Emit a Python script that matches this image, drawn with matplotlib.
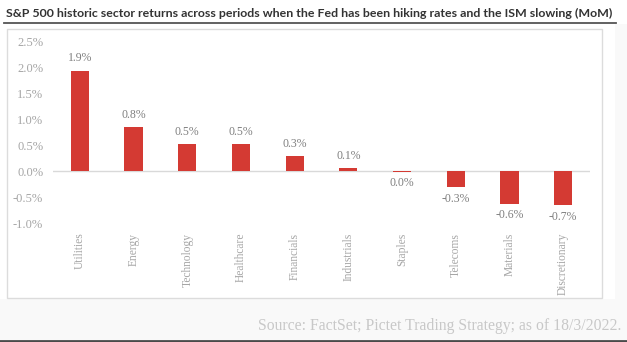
import matplotlib
matplotlib.use("Agg")
import matplotlib.pyplot as plt
from matplotlib.patches import Rectangle
from matplotlib.lines import Line2D

sectors = ["Utilities", "Energy", "Technology", "Healthcare", "Financials",
           "Industrials", "Staples", "Telecoms", "Materials", "Discretionary"]
returns = [1.93, 0.84, 0.52, 0.52, 0.29, 0.06, -0.01, -0.31, -0.63, -0.66]
yticks = [-1.0, -0.5, 0.0, 0.5, 1.0, 1.5, 2.0, 2.5]

W, H = 627, 342
BAR = "#d43a33"
SERIF = "Liberation Serif"


def fx(px):
    return px / W


def fy(py):
    return 1 - py / H


fig = plt.figure(figsize=(W / 100, H / 100), dpi=100, facecolor="white")

# grey strip under the chart frame and dark rule at the very bottom
fig.patches.append(Rectangle((0, 0), 1, fy(299), transform=fig.transFigure,
                             facecolor="#f9f9f9", edgecolor="none", zorder=0))
fig.patches.append(Rectangle((fx(615), fy(299)), 1 - fx(615), fy(24) - fy(299),
                             transform=fig.transFigure, facecolor="#f9f9f9",
                             edgecolor="none", zorder=0))
fig.lines.append(Line2D([0, 1], [fy(341), fy(341)], transform=fig.transFigure,
                        color="#4a4a4a", lw=2))

# chart frame
fig.patches.append(Rectangle((fx(7), fy(298)), fx(602) - fx(7), fy(29) - fy(298),
                             transform=fig.transFigure, facecolor="white",
                             edgecolor="#dcdcdc", lw=1, zorder=1))

# title, shrunk to sit over the underline
title = fig.text(fx(6), fy(13), "S&P 500 historic sector returns across periods when the Fed "
                 "has been hiking rates and the ISM slowing (MoM)",
                 fontsize=10.5, fontfamily="Lato", fontweight="bold", color="#333333",
                 ha="left", va="center")
renderer = fig.canvas.get_renderer()
tw = title.get_window_extent(renderer).width
title.set_fontsize(10.5 * 608 / tw)
fig.lines.append(Line2D([fx(4), fx(616)], [fy(22.5), fy(22.5)],
                        transform=fig.transFigure, color="#555555", lw=1.3))

ax = fig.add_axes([fx(53), fy(223), fx(590) - fx(53), fy(41) - fy(223)])
ax.set_zorder(2)
ax.patch.set_alpha(0)
x = range(len(sectors))
ax.bar(x, returns, width=0.34, color=BAR, edgecolor="none", zorder=3)
ax.axhline(0, color="#d9d9d9", lw=1, zorder=2)

for i, v in enumerate(returns):
    txt = f"{round(v, 1) + 0:.1f}%"
    if v >= 0:
        ax.annotate(txt, (i, v), xytext=(0, 4.5), textcoords="offset points",
                    ha="center", va="bottom", fontsize=8.5, fontfamily=SERIF,
                    color="#7f7f7f")
    else:
        ax.annotate(txt, (i, v), xytext=(0, -4), textcoords="offset points",
                    ha="center", va="top", fontsize=8.5, fontfamily=SERIF,
                    color="#7f7f7f")

ax.set_xlim(-0.5, len(sectors) - 0.5)
ax.set_ylim(-1.0, 2.5)
ax.set_yticks(yticks)
ax.set_yticklabels([f"{t:.1f}%" for t in yticks], fontsize=9, fontfamily=SERIF,
                   color="#a6a6a6")
ax.set_xticks(list(x))
ax.set_xticklabels(sectors, rotation=90, fontsize=8.3, fontfamily=SERIF,
                   color="#a6a6a6", va="top")
ax.tick_params(axis="both", length=0)
ax.tick_params(axis="y", pad=7)
ax.tick_params(axis="x", pad=7)
for s in ax.spines.values():
    s.set_visible(False)

fig.text(fx(621), fy(326), "Source: FactSet; Pictet Trading Strategy; as of 18/3/2022.",
         fontsize=11.3, fontfamily=SERIF, color="#c8c8c8", ha="right", va="center")

fig.savefig("out.png", dpi=100)
